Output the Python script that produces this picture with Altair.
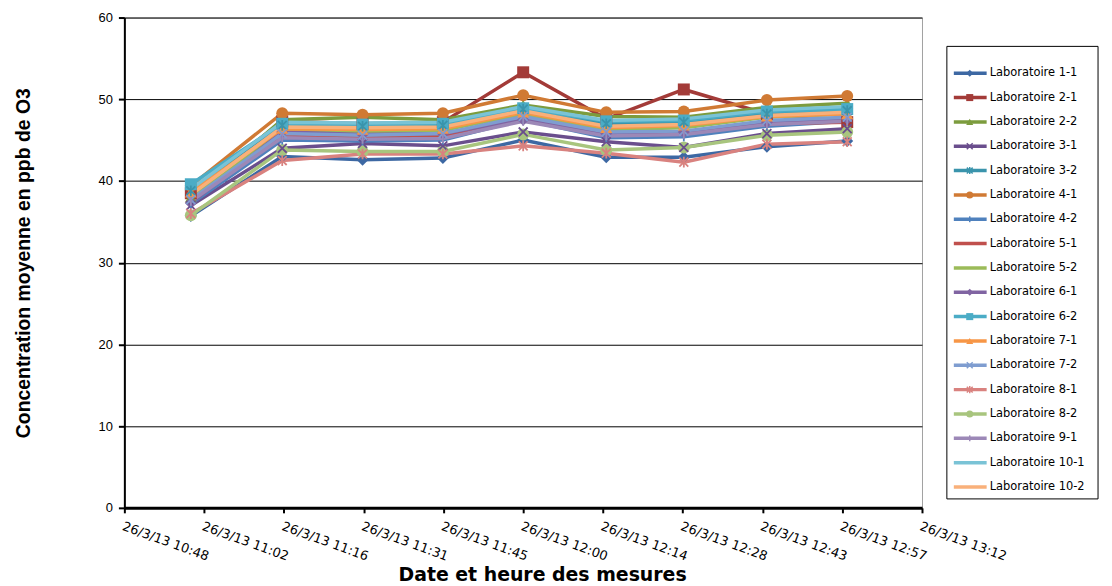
import altair as alt
import pandas as pd

# ---- data ----
series_names = [
    "Laboratoire 1-1", "Laboratoire 2-1", "Laboratoire 2-2", "Laboratoire 3-1",
    "Laboratoire 3-2", "Laboratoire 4-1", "Laboratoire 4-2", "Laboratoire 5-1",
    "Laboratoire 5-2", "Laboratoire 6-1", "Laboratoire 6-2", "Laboratoire 7-1",
    "Laboratoire 7-2", "Laboratoire 8-1", "Laboratoire 8-2", "Laboratoire 9-1",
    "Laboratoire 10-1", "Laboratoire 10-2",
]

measure_times = [
    "2013-03-26 11:00:00", "2013-03-26 11:16:30", "2013-03-26 11:31:00",
    "2013-03-26 11:45:30", "2013-03-26 12:00:00", "2013-03-26 12:15:00",
    "2013-03-26 12:29:00", "2013-03-26 12:44:00", "2013-03-26 12:58:30",
]

lab_1_1 = [35.7, 43.0, 42.6, 42.8, 45.0, 42.9, 42.9, 44.2, 44.9]
lab_2_1 = [38.5, 47.3, 47.0, 47.2, 53.3, 47.6, 51.2, 48.2, 47.2]
lab_2_2 = [38.0, 47.5, 47.8, 47.5, 49.3, 47.9, 47.8, 49.0, 49.5]
lab_3_1 = [37.0, 44.0, 44.6, 44.3, 46.0, 44.8, 44.1, 45.8, 46.4]
lab_3_2 = [38.8, 46.8, 46.7, 46.8, 48.8, 47.0, 47.2, 48.2, 48.6]
lab_4_1 = [39.4, 48.3, 48.1, 48.3, 50.5, 48.4, 48.5, 49.9, 50.4]
lab_4_2 = [37.2, 45.0, 44.9, 45.0, 47.5, 45.3, 45.4, 46.7, 47.3]
lab_5_1 = [37.5, 45.5, 45.3, 45.5, 47.8, 45.8, 45.8, 47.0, 47.2]
lab_5_2 = [37.8, 46.2, 46.0, 46.2, 48.2, 46.3, 46.5, 47.8, 48.2]
lab_6_1 = [37.3, 46.0, 45.7, 45.8, 47.5, 45.8, 46.0, 47.2, 47.6]
lab_6_2 = [39.6, 47.0, 46.9, 47.0, 48.9, 47.3, 47.4, 48.5, 48.8]
lab_7_1 = [38.6, 46.4, 46.3, 46.4, 48.4, 46.5, 46.8, 47.9, 48.2]
lab_7_2 = [37.7, 45.8, 45.6, 45.8, 47.9, 46.0, 46.1, 47.4, 47.8]
lab_8_1 = [36.0, 42.5, 43.3, 43.3, 44.3, 43.4, 42.3, 44.5, 44.8]
lab_8_2 = [35.8, 43.8, 43.6, 43.6, 45.7, 43.8, 44.1, 45.6, 46.0]
lab_9_1 = [37.5, 45.3, 45.1, 45.2, 47.3, 45.5, 45.7, 46.9, 47.3]
lab_10_1 = [39.0, 47.2, 47.1, 47.2, 49.1, 47.4, 47.6, 48.7, 49.1]
lab_10_2 = [38.3, 46.6, 46.5, 46.6, 48.6, 46.7, 46.9, 48.0, 48.4]

all_values = [lab_1_1, lab_2_1, lab_2_2, lab_3_1, lab_3_2, lab_4_1, lab_4_2,
              lab_5_1, lab_5_2, lab_6_1, lab_6_2, lab_7_1, lab_7_2, lab_8_1,
              lab_8_2, lab_9_1, lab_10_1, lab_10_2]

# x axis tick times (labels formatted as 26/3/13 HH:MM)
tick_times = [(10, 48, 0), (11, 2, 24), (11, 16, 48), (11, 31, 12), (11, 45, 36),
              (12, 0, 0), (12, 14, 24), (12, 28, 48), (12, 43, 12), (12, 57, 36),
              (13, 12, 0)]
y_ticks = [0, 10, 20, 30, 40, 50, 60]

# ---- styles ----
colors = ["#3D68A3", "#A33B38", "#7C9C3E", "#6A4E8D", "#3A94AC", "#D07A34",
          "#4F81BD", "#C0504D", "#9BBB59", "#8064A2", "#4BACC6", "#F79646",
          "#7F9DD0", "#D9827F", "#A8C57E", "#9C88B7", "#7AC3D6", "#F9B07A"]

X_PATH = "M-1,-1L1,1M-1,1L1,-1"
STAR_PATH = "M-1,-1L1,1M-1,1L1,-1M0,-1.2L0,1.2"
PLUS_PATH = "M0,-1L0,1"
shapes = ["diamond", "square", "triangle-up", X_PATH, STAR_PATH, "circle",
          PLUS_PATH, "circle", "circle", "diamond", "square", "triangle-up",
          X_PATH, STAR_PATH, "circle", PLUS_PATH, "circle", "circle"]
filled_marker = ["Laboratoire 1-1", "Laboratoire 2-1", "Laboratoire 2-2",
                 "Laboratoire 4-1", "Laboratoire 6-1", "Laboratoire 6-2",
                 "Laboratoire 7-1", "Laboratoire 8-2"]
stroke_marker = ["Laboratoire 3-1", "Laboratoire 3-2", "Laboratoire 4-2",
                 "Laboratoire 7-2", "Laboratoire 8-1", "Laboratoire 9-1"]

rows = []
for name, vals in zip(series_names, all_values):
    for t, v in zip(measure_times, vals):
        rows.append({"serie": name, "time": t, "value": v})
df = pd.DataFrame(rows)
legend_df = pd.DataFrame({"serie": series_names})

def dt(h, m, s):
    return alt.DateTime(year=2013, month=3, date=26, hours=h, minutes=m, seconds=s)

color_scale = alt.Scale(domain=series_names, range=colors)
shape_scale = alt.Scale(domain=series_names, range=shapes)

x_enc = alt.X(
    "time:T",
    scale=alt.Scale(domain=[dt(*tick_times[0]), dt(*tick_times[-1])]),
    axis=alt.Axis(
        values=[dt(*t) for t in tick_times],
        format="%-d/%-m/%y %H:%M",
        title="Date et heure des mesures",
        labelAngle=20, labelAlign="left", labelBaseline="top",
        labelFontSize=13, labelColor="black", labelFont="DejaVu Sans",
        labelPadding=7, labelOverlap=False, labelFlush=False,
        titleFontSize=19, titleFontWeight="bold", titleFont="DejaVu Sans",
        titleColor="black", titleX=420, titleY=73, titleBaseline="alphabetic",
        domainColor="black", domainWidth=3, tickColor="black", tickSize=5,
        tickWidth=2, grid=False,
    ),
)
y_enc = alt.Y(
    "value:Q",
    scale=alt.Scale(domain=[0, 60], nice=False, zero=True),
    axis=alt.Axis(
        values=y_ticks, title="Concentration moyenne en ppb de O3",
        labelFontSize=13, labelColor="black", labelFont="Liberation Sans",
        labelPadding=6,
        titleFontSize=19.5, titleFontWeight="bold", titleFont="Liberation Sans",
        titleColor="black", titlePadding=65,
        domainColor="black", domainWidth=2, tickColor="black", tickSize=6,
        tickWidth=2, grid=True, gridColor="black", gridWidth=1,
    ),
)

lines = alt.Chart(df).mark_line(strokeWidth=3.5).encode(
    x=x_enc, y=y_enc,
    color=alt.Color("serie:N", scale=color_scale, legend=None),
    detail="serie:N",
)
pts_filled = alt.Chart(df).transform_filter(
    alt.FieldOneOfPredicate(field="serie", oneOf=filled_marker)
).mark_point(filled=True, opacity=1, size=145).encode(
    x="time:T", y="value:Q",
    color=alt.Color("serie:N", scale=color_scale, legend=None),
    shape=alt.Shape("serie:N", scale=shape_scale, legend=None),
)
pts_stroke = alt.Chart(df).transform_filter(
    alt.FieldOneOfPredicate(field="serie", oneOf=stroke_marker)
).mark_point(filled=False, opacity=1, size=80, strokeWidth=1.8).encode(
    x="time:T", y="value:Q",
    color=alt.Color("serie:N", scale=color_scale, legend=None),
    shape=alt.Shape("serie:N", scale=shape_scale, legend=None),
)
main = alt.layer(lines, pts_filled, pts_stroke)

# ---- custom Excel-like legend ----
ly = alt.Y("serie:N", scale=alt.Scale(domain=series_names, type="point",
                                      range=[56, 472], padding=0), axis=None)
box = alt.Chart(pd.DataFrame({"k": [0]})).mark_rect(
    fill="white", stroke="black", strokeWidth=1
).encode(x=alt.value(827), x2=alt.value(979), y=alt.value(29), y2=alt.value(484))
l_rules = alt.Chart(legend_df).mark_rule(strokeWidth=3.5).encode(
    x=alt.value(834), x2=alt.value(867), y=ly,
    color=alt.Color("serie:N", scale=color_scale, legend=None),
)
l_filled = alt.Chart(legend_df).transform_filter(
    alt.FieldOneOfPredicate(field="serie", oneOf=filled_marker)
).mark_point(filled=True, opacity=1, size=50).encode(
    x=alt.value(850), y=ly,
    color=alt.Color("serie:N", scale=color_scale, legend=None),
    shape=alt.Shape("serie:N", scale=shape_scale, legend=None),
)
l_stroke = alt.Chart(legend_df).transform_filter(
    alt.FieldOneOfPredicate(field="serie", oneOf=stroke_marker)
).mark_point(filled=False, opacity=1, size=35, strokeWidth=1.5).encode(
    x=alt.value(850), y=ly,
    color=alt.Color("serie:N", scale=color_scale, legend=None),
    shape=alt.Shape("serie:N", scale=shape_scale, legend=None),
)
l_text = alt.Chart(legend_df).mark_text(
    align="left", baseline="middle", fontSize=11.5, font="DejaVu Sans", color="black"
).encode(x=alt.value(870), y=ly, text="serie:N")
legend = alt.layer(box, l_rules, l_filled, l_stroke, l_text)

chart = alt.layer(main, legend).resolve_scale(y="independent").properties(
    width=802, height=493,
    padding={"left": 5, "top": 2, "right": 5, "bottom": 5},
    background="white",
).configure_view(stroke="#a0a0a0", strokeWidth=1)

chart.save("out.html", embed_options={"renderer": "svg", "actions": False})
